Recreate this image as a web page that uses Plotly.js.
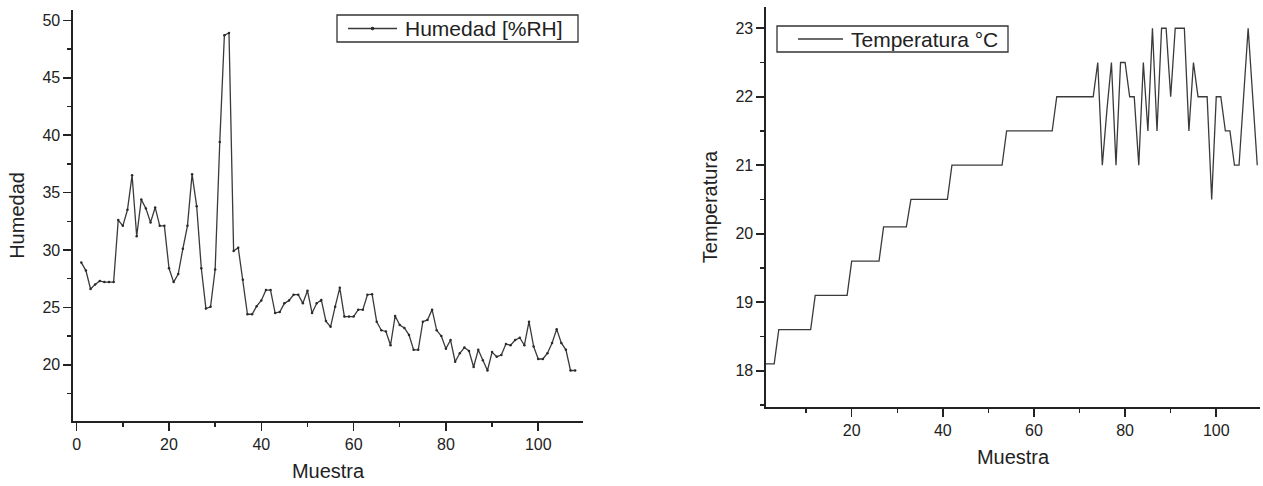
<!DOCTYPE html>
<html><head><meta charset="utf-8">
<script src="https://cdn.plot.ly/plotly-3.0.1.min.js"></script>
<style>html,body{margin:0;padding:0;background:#fff}#chart{width:1263px;height:486px}</style>
</head><body><div id="chart"></div>
<script>
const humedad = [28.9,28.2,26.6,27.0,27.3,27.2,27.2,27.2,32.6,32.1,
  33.5,36.5,31.2,34.4,33.6,32.4,33.7,32.1,32.1,28.4,
  27.2,27.9,30.1,32.1,36.6,33.8,28.4,24.9,25.05,28.3,
  39.4,48.7,48.9,29.9,30.2,27.4,24.4,24.4,25.1,25.6,
  26.5,26.5,24.5,24.6,25.35,25.6,26.1,26.1,25.35,26.45,
  24.5,25.35,25.65,23.8,23.3,25.06,26.7,24.2,24.2,24.2,
  24.8,24.8,26.1,26.15,23.75,23.0,22.9,21.7,24.25,23.46,
  23.2,22.6,21.3,21.3,23.75,23.9,24.8,23.0,22.5,21.4,
  22.15,20.26,21.0,21.5,21.2,19.8,21.3,20.4,19.5,21.1,
  20.7,20.85,21.8,21.7,22.15,22.35,21.7,23.75,21.6,20.5,
  20.5,21.0,21.9,23.1,21.9,21.3,19.5,19.5];
const temperatura = [18.1,18.1,18.1,18.6,18.6,18.6,18.6,18.6,18.6,18.6,
  18.6,19.1,19.1,19.1,19.1,19.1,19.1,19.1,19.1,19.6,
  19.6,19.6,19.6,19.6,19.6,19.6,20.1,20.1,20.1,20.1,
  20.1,20.1,20.5,20.5,20.5,20.5,20.5,20.5,20.5,20.5,
  20.5,21.0,21.0,21.0,21.0,21.0,21.0,21.0,21.0,21.0,
  21.0,21.0,21.0,21.5,21.5,21.5,21.5,21.5,21.5,21.5,
  21.5,21.5,21.5,21.5,22.0,22.0,22.0,22.0,22.0,22.0,
  22.0,22.0,22.0,22.5,21.0,21.8,22.5,21.0,22.5,22.5,
  22.0,22.0,21.0,22.5,21.5,23.0,21.5,23.0,23.0,22.0,
  23.0,23.0,23.0,21.5,22.5,22.0,22.0,22.0,20.5,22.0,
  22.0,21.5,21.5,21.0,21.0,22.0,23.0,22.0,21.0];
const muestraH = humedad.map((_, i) => i + 1);
const muestraT = temperatura.map((_, i) => i + 1);
const xTicks = [0, 20, 40, 60, 80, 100];
const nombreH = 'Humedad [%RH]';
const nombreT = 'Temperatura °C';

const FONT = 'Arial, "Liberation Sans", sans-serif';
const INK = '#222222';
const LINE = '#3a3a3a';
const W = 1263, H = 486;
const px = v => v / W, py = v => 1 - v / H;

function axis(extra) {
  return Object.assign({
    showline: true, linecolor: INK, linewidth: 1.6,
    ticks: 'outside', ticklen: 8, tickwidth: 1.6, tickcolor: INK,
    showgrid: false, zeroline: false, mirror: false,
    tickfont: {family: FONT, size: 16, color: INK},
    fixedrange: true
  }, extra);
}

const traces = [
  {x: muestraH, y: humedad, xaxis: 'x', yaxis: 'y', type: 'scatter', mode: 'lines+markers',
   name: nombreH, showlegend: false,
   line: {color: LINE, width: 1.3}, marker: {color: '#2a2a2a', size: 2.5}},
  {x: muestraT, y: temperatura, xaxis: 'x2', yaxis: 'y2', type: 'scatter', mode: 'lines',
   name: nombreT, showlegend: false,
   line: {color: LINE, width: 1.3}}
];

// legend boxes (pixel geometry of the frames)
function legendBox(x0, x1, y0, y1, l0, l1, text, dot) {
  const ym = (y0 + y1) / 2;
  const shapes = [
    {type: 'rect', xref: 'paper', yref: 'paper', x0: px(x0), x1: px(x1), y0: py(y1), y1: py(y0),
     line: {color: '#333333', width: 1.3}, fillcolor: '#ffffff', layer: 'above'},
    {type: 'line', xref: 'paper', yref: 'paper', x0: px(l0), x1: px(l1), y0: py(ym), y1: py(ym),
     line: {color: LINE, width: 1.4}, layer: 'above'}
  ];
  if (dot) {
    const c = (l0 + l1) / 2;
    shapes.push({type: 'circle', xref: 'paper', yref: 'paper', x0: px(c - 1.3), x1: px(c + 1.3),
      y0: py(ym + 1.3), y1: py(ym - 1.3), line: {color: '#222', width: 1}, fillcolor: '#222', layer: 'above'});
  }
  const ann = {xref: 'paper', yref: 'paper', x: px(l1 + 6), y: py(ym), xanchor: 'left', yanchor: 'middle',
    text: text, showarrow: false, font: {family: FONT, size: 21, color: INK}};
  return {shapes, ann};
}
const lg1 = legendBox(337, 578, 15, 42, 348, 397, nombreH, true);
const lg2 = legendBox(777, 1008, 26, 52, 798, 843, nombreT, false);

const layout = {
  width: W, height: H,
  margin: {l: 0, r: 0, t: 0, b: 0},
  paper_bgcolor: '#ffffff', plot_bgcolor: '#ffffff',
  font: {family: FONT, color: INK},
  showlegend: false,
  xaxis: axis({domain: [px(73), px(583)], range: [-0.8, 109.7], anchor: 'y',
    tickvals: xTicks, minor: {ticks: 'outside', ticklen: 4, dtick: 10, tick0: 0, tickcolor: INK, tickwidth: 1.4},
    title: {text: 'Muestra', font: {family: FONT, size: 20, color: INK}, standoff: 12}}),
  yaxis: axis({domain: [py(421), py(10)], range: [15.1, 50.9], anchor: 'x',
    tick0: 0, dtick: 5, minor: {ticks: 'outside', ticklen: 4, dtick: 2.5, tick0: 0, tickcolor: INK, tickwidth: 1.4},
    title: {text: 'Humedad', font: {family: FONT, size: 20, color: INK}, standoff: 12}}),
  xaxis2: axis({domain: [px(766), px(1260)], range: [1.2, 109.6], anchor: 'y2',
    tickvals: xTicks, minor: {ticks: 'outside', ticklen: 4, dtick: 10, tick0: 0, tickcolor: INK, tickwidth: 1.4},
    title: {text: 'Muestra', font: {family: FONT, size: 20, color: INK}, standoff: 12}}),
  yaxis2: axis({domain: [py(407), py(7)], range: [17.47, 23.31], anchor: 'x2',
    tick0: 0, dtick: 1, minor: {ticks: 'outside', ticklen: 4, dtick: 0.5, tick0: 0, tickcolor: INK, tickwidth: 1.4},
    title: {text: 'Temperatura', font: {family: FONT, size: 20, color: INK}, standoff: 12}}),
  shapes: lg1.shapes.concat(lg2.shapes),
  annotations: [lg1.ann, lg2.ann]
};

Plotly.newPlot('chart', traces, layout, {staticPlot: true, displayModeBar: false});
</script>
</body></html>
